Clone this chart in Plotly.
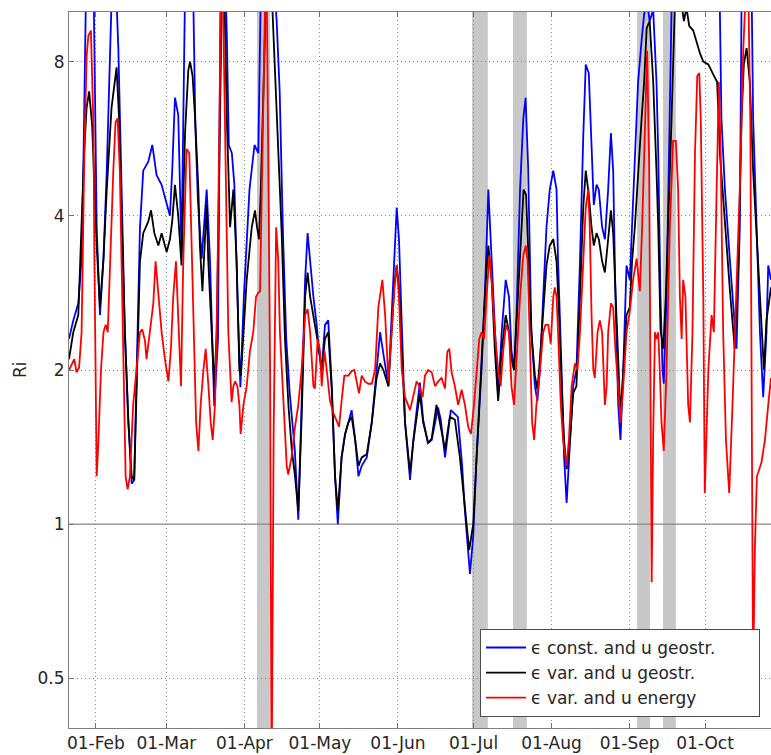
import math
import pandas as pd
import plotly.graph_objects as go

# Dates are stored as day offsets from 1 January (fractional days).
YEAR_START = pd.Timestamp("2010-01-01")

# Richardson number series: (day offset, Ri)
eps_const_u_geo = [
    (20.3, 2.3), (22.0, 2.5), (24.0, 2.7), (25.3, 3.3), (26.0, 5.0), (27.0, 10.5), (28.5, 14), (30.0, 12),
    (31.3, 3.8), (32.6, 2.56), (34.0, 3.3), (35.3, 4.9), (37.2, 10.5), (38.2, 13), (39.2, 10.5), (39.9, 8.5),
    (41.2, 4.5), (42.5, 2.37), (43.9, 1.58), (45.2, 1.2), (46.2, 1.22), (47.2, 2.0), (48.5, 3.8), (49.8, 4.9),
    (51.8, 5.1), (53.4, 5.5), (55.1, 4.8), (57.1, 4.6), (59.1, 4.2), (60.4, 4.0), (61.3, 4.9), (62.4, 6.8),
    (63.7, 6.3), (65.0, 3.4), (66.4, 11), (68.0, 14), (69.7, 10.5), (70.5, 6.0), (71.5, 4.3), (73.0, 3.3),
    (75.0, 4.5), (76.3, 3.3), (78.0, 1.7), (79.5, 2.3), (80.5, 11), (82.0, 14), (83.0, 9), (83.8, 5.5),
    (85.0, 5.3), (86.0, 4.6), (87.5, 2.5), (88.4, 1.85), (89.8, 2.8), (92.0, 4.5), (94.0, 5.5), (95.5, 5.3),
    (96.5, 11), (98.0, 14), (101.0, 13), (102.8, 9.6), (104.0, 7.0), (105.3, 3.7), (106.6, 2.3), (108.0, 1.8),
    (110.0, 1.4), (111.4, 1.02), (112.7, 1.71), (114.1, 3.0), (115.1, 3.7), (116.1, 3.26), (117.4, 2.78),
    (118.7, 2.45), (119.6, 2.18), (120.7, 2.0), (122.0, 2.45), (123.3, 2.5), (124.7, 1.86), (126.0, 1.24),
    (127.1, 1.0), (128.6, 1.35), (130.0, 1.5), (131.3, 1.58), (132.6, 1.67), (134.0, 1.46), (135.3, 1.24),
    (136.6, 1.3), (138.6, 1.35), (140.6, 1.58), (142.5, 2.0), (143.9, 2.37), (145.2, 2.15), (147.2, 1.86),
    (148.5, 2.56), (149.6, 3.26), (150.5, 4.15), (151.4, 3.6), (152.5, 2.37), (153.8, 1.58), (155.8, 1.22),
    (157.1, 1.46), (159.7, 1.89), (161.0, 1.6), (162.9, 1.44), (164.4, 1.46), (166.9, 1.69), (168.0, 1.6),
    (169.7, 1.35), (172.0, 1.67), (174.8, 1.62), (176.5, 1.3), (177.6, 1.06), (179.6, 0.8), (180.9, 0.95),
    (182.2, 1.35), (184.2, 2.0), (185.5, 2.78), (186.9, 4.5), (188.2, 3.26), (189.5, 2.37), (190.8, 1.77),
    (192.2, 2.37), (193.8, 3.0), (195.1, 2.78), (196.1, 2.18), (197.1, 2.0), (198.1, 2.56), (199.5, 4.5),
    (200.8, 6.2), (201.7, 6.8), (202.7, 5.0), (204.0, 2.37), (205.4, 1.86), (206.4, 1.74), (207.4, 2.0),
    (208.7, 2.78), (210.0, 3.8), (211.3, 4.5), (212.7, 4.9), (214.0, 4.5), (214.6, 3.26), (216.0, 2.0),
    (217.0, 1.35), (218.0, 1.1), (219.3, 1.46), (220.6, 1.86), (221.9, 2.0), (223.3, 3.26), (224.6, 5.7),
    (225.6, 7.9), (226.8, 7.6), (227.9, 5.3), (228.8, 4.2), (229.9, 4.6), (230.8, 4.5), (232.1, 3.8),
    (233.2, 3.6), (234.5, 4.5), (235.6, 5.8), (236.5, 4.9), (237.4, 2.78), (238.5, 1.71), (239.4, 1.46),
    (240.5, 2.0), (241.8, 3.2), (243.1, 3.0), (244.0, 3.8), (245.1, 5.3), (246.4, 7.3), (247.8, 8.8),
    (248.8, 9.9), (250.0, 10.4), (251.0, 9.6), (252.4, 10.1), (253.7, 7.3), (254.4, 5.3), (255.3, 2.78),
    (256.1, 2.0), (256.6, 1.88), (257.7, 2.78), (258.8, 5.3), (259.7, 10.2), (262.0, 14), (266.0, 16),
    (270.0, 15), (274.0, 14), (277.5, 12), (278.9, 10), (279.5, 6.2), (280.9, 4.5), (282.9, 3.26),
    (284.8, 2.37), (285.5, 2.2), (286.8, 3.8), (287.5, 10.5), (289.5, 14), (291.5, 11), (292.1, 6.2),
    (293.5, 3.8), (294.8, 2.37), (296.1, 1.77), (297.4, 2.37), (298.1, 3.2), (299.2, 3.0),
]

eps_var_u_geo = [
    (20.3, 2.1), (22.0, 2.37), (24.0, 2.56), (25.3, 3.8), (26.3, 5.3), (27.3, 6.5), (28.3, 7.0), (29.5, 6.0),
    (30.5, 4.5), (31.3, 3.5), (32.6, 2.65), (34.0, 3.3), (35.3, 4.5), (37.2, 6.5), (39.2, 7.8), (40.2, 6.2),
    (41.2, 4.0), (42.5, 2.37), (43.9, 1.58), (45.2, 1.24), (46.2, 1.22), (47.2, 1.9), (48.5, 3.26), (49.8, 3.7),
    (51.8, 3.9), (52.9, 4.1), (54.2, 3.7), (55.8, 3.5), (57.1, 3.7), (59.1, 3.4), (60.4, 3.6), (61.3, 3.9),
    (62.4, 4.6), (63.7, 4.0), (65.0, 3.2), (66.4, 5.8), (67.7, 7.7), (68.4, 8.0), (69.4, 7.5), (70.4, 6.2),
    (71.7, 4.5), (72.3, 3.5), (73.3, 2.85), (74.3, 3.6), (75.0, 4.2), (75.6, 3.3), (77.0, 2.37), (78.0, 1.86),
    (79.0, 2.37), (79.6, 3.8), (80.3, 5.8), (81.0, 10.5), (82.0, 11), (83.0, 6.2), (84.3, 3.8), (85.6, 4.5),
    (86.9, 3.26), (88.0, 2.0), (88.6, 1.95), (89.6, 2.37), (90.9, 3.0), (92.9, 3.8), (94.2, 4.1), (95.0, 3.8),
    (95.8, 3.6), (96.5, 4.5), (97.5, 7.3), (98.5, 10.5), (100.5, 12), (102.1, 7.7), (103.4, 5.4), (104.8, 3.7),
    (106.1, 2.3), (107.5, 1.7), (108.8, 1.4), (110.1, 1.24), (111.4, 1.06), (112.7, 1.6), (114.1, 2.78),
    (115.1, 3.1), (116.1, 2.78), (117.4, 2.56), (118.7, 2.37), (119.6, 2.2), (120.7, 2.0), (122.0, 2.3),
    (123.3, 2.37), (124.7, 1.83), (126.0, 1.24), (127.1, 1.06), (128.6, 1.35), (130.0, 1.5), (131.3, 1.58),
    (132.6, 1.62), (134.0, 1.46), (135.3, 1.3), (136.6, 1.35), (138.6, 1.37), (140.6, 1.58), (142.5, 1.93),
    (143.9, 2.06), (145.2, 2.0), (147.2, 1.86), (148.5, 2.37), (149.6, 2.95), (150.5, 3.2), (151.4, 2.9),
    (152.5, 2.2), (153.8, 1.58), (155.8, 1.26), (157.1, 1.45), (159.7, 1.8), (161.0, 1.58), (163.0, 1.44),
    (164.4, 1.47), (166.3, 1.71), (167.7, 1.58), (169.7, 1.4), (171.6, 1.62), (173.6, 1.6), (175.6, 1.35),
    (177.6, 1.06), (179.3, 0.89), (180.9, 1.0), (182.2, 1.35), (184.2, 2.1), (185.5, 2.78), (186.9, 3.5),
    (188.2, 3.0), (189.5, 2.18), (190.8, 1.74), (192.2, 2.18), (193.8, 2.56), (195.1, 2.37), (196.1, 2.1),
    (197.1, 2.0), (198.1, 2.5), (199.6, 3.5), (200.9, 4.5), (201.9, 4.4), (202.7, 3.5), (204.0, 2.37),
    (205.4, 1.95), (206.4, 1.83), (207.4, 2.1), (208.7, 2.56), (210.0, 3.2), (211.3, 3.5), (212.7, 3.6),
    (214.0, 3.26), (215.0, 2.56), (216.0, 1.86), (217.0, 1.46), (218.0, 1.28), (219.3, 1.46), (220.6, 1.8),
    (221.9, 1.86), (223.3, 2.78), (224.6, 4.15), (225.6, 4.9), (226.8, 4.4), (227.9, 3.8), (228.8, 3.5),
    (229.9, 3.7), (230.8, 3.6), (232.1, 3.26), (233.2, 3.1), (234.5, 3.6), (235.6, 4.1), (236.5, 3.7),
    (237.4, 2.78), (238.5, 2.0), (239.4, 1.62), (240.5, 2.0), (241.8, 2.56), (243.1, 2.65), (244.0, 3.26),
    (245.1, 3.8), (246.4, 4.9), (247.8, 6.2), (248.8, 7.3), (249.8, 9.3), (251.0, 9.6), (252.4, 7.3),
    (253.7, 4.9), (254.4, 3.8), (255.3, 2.4), (256.4, 2.2), (257.4, 2.78), (258.4, 3.8), (259.7, 6.2),
    (261.0, 10.3), (262.5, 11), (263.6, 10.4), (264.6, 9.6), (265.6, 10.2), (266.7, 9.4), (268.3, 9.2),
    (269.6, 8.7), (271.0, 8.3), (272.3, 8.0), (274.3, 7.9), (276.0, 7.6), (277.8, 7.3), (278.9, 5.3),
    (280.9, 3.8), (282.9, 2.85), (284.8, 2.2), (286.2, 3.2), (287.5, 6.2), (288.4, 7.9), (289.5, 8.5),
    (290.8, 7.3), (292.1, 4.9), (294.1, 3.2), (295.4, 2.37), (296.4, 2.0), (297.4, 2.5), (299.2, 2.9),
]

eps_var_u_energy = [
    (20.3, 2.0), (21.3, 2.05), (22.4, 2.1), (23.3, 1.98), (24.3, 2.02), (25.3, 2.37), (26.4, 5.3), (27.3, 8.2),
    (28.0, 9.0), (29.0, 9.2), (30.0, 6.0), (30.4, 3.26), (30.9, 2.0), (31.3, 1.24), (32.0, 1.46), (33.0, 2.0),
    (34.0, 2.37), (34.9, 2.45), (35.7, 2.37), (36.6, 3.26), (37.9, 4.9), (38.8, 6.1), (39.6, 6.2), (40.5, 4.9),
    (41.5, 2.78), (42.3, 1.71), (42.8, 1.24), (43.6, 1.17), (44.5, 1.24), (45.8, 1.71), (47.2, 2.0), (48.5, 2.37),
    (49.4, 2.4), (50.5, 2.28), (51.1, 2.1), (52.5, 2.37), (53.8, 2.7), (54.7, 3.26), (55.8, 2.78), (57.1, 2.37),
    (58.4, 2.1), (59.8, 1.9), (60.8, 2.2), (61.7, 2.78), (62.8, 3.26), (63.7, 2.56), (64.8, 1.86), (65.7, 3.26),
    (67.0, 5.4), (68.1, 5.3), (69.0, 3.5), (69.7, 2.37), (70.8, 1.58), (71.7, 1.39), (72.6, 1.71), (73.7, 2.0),
    (74.6, 2.2), (75.7, 1.86), (76.6, 1.58), (77.4, 1.46), (78.3, 1.71), (79.2, 2.78), (80.0, 5.3), (80.6, 10.0),
    (81.3, 12), (82.3, 6.2), (83.0, 3.26), (83.6, 2.37), (84.3, 2.0), (84.9, 1.73), (85.6, 1.86), (86.3, 1.9),
    (87.2, 1.86), (88.0, 1.71), (88.5, 1.5), (89.6, 1.71), (90.9, 1.86), (92.2, 2.18), (93.5, 2.37), (94.6, 2.78),
    (95.5, 2.83), (96.2, 2.85), (96.9, 4.5), (97.5, 7.3), (98.2, 10.5), (98.8, 12), (99.5, 4.5), (100.2, 2.0),
    (100.8, 0.3), (101.6, 1.5), (102.6, 3.8), (103.4, 3.3), (104.1, 2.37), (105.5, 1.71), (106.8, 1.3),
    (107.4, 1.25), (108.7, 1.35), (110.1, 1.55), (111.4, 1.71), (112.7, 2.0), (114.1, 2.56), (115.1, 2.63),
    (116.1, 2.37), (117.4, 1.86), (118.0, 1.84), (119.1, 2.3), (120.0, 2.18), (120.7, 1.86), (121.8, 2.18),
    (122.7, 2.0), (124.0, 1.74), (125.3, 1.65), (126.7, 1.58), (127.6, 1.55), (128.6, 1.74), (129.7, 1.95),
    (131.3, 1.95), (132.6, 1.99), (133.7, 2.0), (134.6, 1.88), (135.5, 1.8), (136.6, 1.95), (137.9, 1.9),
    (139.2, 1.88), (140.6, 1.88), (141.9, 2.0), (143.2, 2.65), (144.8, 3.0), (145.9, 2.56), (147.2, 1.9),
    (148.5, 2.37), (149.6, 2.9), (150.5, 3.2), (151.4, 2.78), (152.5, 2.0), (153.8, 1.77), (155.8, 1.67),
    (157.1, 1.77), (158.4, 1.9), (159.5, 1.86), (160.8, 1.77), (161.7, 1.95), (163.0, 2.0), (164.4, 1.98),
    (165.7, 1.86), (167.0, 1.9), (168.3, 1.93), (169.7, 1.84), (170.6, 2.17), (171.4, 2.2), (172.3, 1.98),
    (173.6, 1.86), (174.9, 1.71), (176.3, 1.83), (177.6, 1.71), (178.9, 1.55), (180.0, 1.5), (181.2, 1.71),
    (182.2, 2.0), (183.3, 2.3), (184.2, 2.37), (185.2, 2.3), (186.2, 2.78), (187.3, 3.35), (188.2, 3.0),
    (189.5, 2.37), (190.8, 2.0), (191.8, 1.86), (192.8, 2.18), (193.9, 2.45), (195.1, 2.37), (196.1, 1.86),
    (197.1, 1.71), (198.4, 2.18), (199.5, 2.78), (200.8, 3.35), (201.8, 3.5), (202.5, 3.26), (203.4, 2.18),
    (204.3, 1.58), (205.1, 1.46), (206.0, 1.71), (207.4, 2.0), (208.7, 2.37), (209.6, 2.45), (210.7, 2.45),
    (211.7, 2.25), (212.7, 2.78), (213.3, 2.9), (214.0, 2.78), (214.6, 2.37), (215.7, 1.71), (216.6, 1.46),
    (218.0, 1.3), (218.9, 1.46), (220.0, 1.86), (221.3, 2.06), (222.3, 2.0), (223.3, 2.37), (224.6, 3.26),
    (225.6, 4.15), (226.6, 4.5), (227.2, 3.8), (227.9, 2.56), (228.6, 2.0), (229.2, 1.93), (230.3, 2.37),
    (231.2, 2.5), (232.1, 2.37), (233.2, 1.71), (233.9, 1.86), (234.5, 2.37), (235.6, 2.7), (236.5, 2.65),
    (237.4, 2.18), (238.5, 1.86), (239.4, 1.58), (240.5, 1.86), (241.8, 2.37), (243.1, 2.6), (244.4, 3.0),
    (245.8, 3.3), (247.1, 2.85), (248.0, 3.8), (248.8, 5.3), (250.0, 8.4), (250.8, 5.0), (251.3, 2.0),
    (251.8, 0.77), (252.4, 1.5), (253.1, 2.37), (253.7, 2.3), (254.4, 2.37), (255.0, 2.0), (255.7, 1.58),
    (256.6, 1.39), (257.7, 2.0), (259.0, 3.8), (260.3, 5.6), (261.4, 5.6), (262.3, 4.5), (263.0, 2.78),
    (263.7, 2.3), (264.3, 3.0), (265.2, 2.78), (266.3, 1.71), (267.0, 1.58), (268.0, 2.37), (269.0, 5.3),
    (269.9, 7.5), (270.7, 7.6), (271.3, 6.2), (272.3, 2.78), (272.9, 1.15), (274.3, 2.0), (275.6, 2.56),
    (276.5, 2.37), (277.6, 4.5), (278.5, 7.3), (279.2, 5.3), (280.2, 2.37), (281.3, 1.46), (282.6, 1.15),
    (283.9, 1.71), (285.5, 2.78), (286.8, 4.5), (288.2, 8.5), (289.2, 11), (290.2, 11), (291.0, 6.0),
    (291.6, 1.5), (292.1, 0.5), (292.8, 0.9), (293.6, 1.24), (295.4, 1.32), (296.8, 1.46), (298.1, 1.71),
    (299.2, 1.93),
]

# Shaded periods (start day, end day)
shaded_periods = [(95.0, 100.1), (180.4, 186.7), (196.7, 202.2), (246.0, 251.1), (256.3, 261.4)]

series_names = ["ϵ const. and u geostr.", "ϵ var. and u geostr.", "ϵ var. and u energy"]
series_colors = ["#0000ff", "#000000", "#ff0000"]

ri_ticks = [0.5, 1, 2, 4, 8]
ri_range = (0.4, 10.0)
day_range = (20.3, 299.2)

FONT = "DejaVu Sans"
TEXT_COLOR = "#262626"


def to_date(day):
    return YEAR_START + pd.Timedelta(days=day)


fig = go.Figure()

# legend labels are padded on the right so the legend box spans the lower-right corner
pad = "\u00a0" * 7
for name, color, pts in zip(series_names, series_colors,
                            [eps_const_u_geo, eps_var_u_geo, eps_var_u_energy]):
    fig.add_trace(go.Scatter(
        x=[to_date(d) for d, _ in pts],
        y=[v for _, v in pts],
        mode="lines",
        name=name + pad,
        legendgroup=name,
        line=dict(color=color, width=1.8),
    ))

shapes = []
for d0, d1 in shaded_periods:
    shapes.append(dict(type="rect", xref="x", yref="paper",
                       x0=to_date(d0), x1=to_date(d1), y0=0, y1=1,
                       fillcolor="#c8c8c8", line=dict(width=0), layer="between"))
# reference line at Ri = 1
shapes.append(dict(type="line", xref="paper", yref="y", x0=0, x1=1, y0=1, y1=1,
                   line=dict(color="#8a8a8a", width=1.2), layer="between"))

fig.update_layout(
    width=771, height=755,
    margin=dict(l=69, r=0, t=12, b=27),
    plot_bgcolor="white", paper_bgcolor="white",
    font=dict(family=FONT, size=17, color=TEXT_COLOR),
    shapes=shapes,
    showlegend=True,
    legend=dict(
        x=0.5855, y=0.0154, xanchor="left", yanchor="bottom",
        bgcolor="white", bordercolor="#4d4d4d", borderwidth=1,
        font=dict(family=FONT, size=17, color=TEXT_COLOR),
        traceorder="grouped", tracegroupgap=0, itemwidth=40,
    ),
    annotations=[dict(text="Ri", xref="paper", yref="paper", x=-0.0698, y=0.5,
                      xanchor="center", yanchor="middle",
                      textangle=-90, showarrow=False,
                      font=dict(family=FONT, size=17, color=TEXT_COLOR))],
)

grid_dash = "1px,3px"
fig.update_xaxes(
    type="date",
    range=[to_date(day_range[0]), to_date(day_range[1])],
    tick0="2010-02-01", dtick="M1", tickformat="%d-%b",
    ticks="inside", ticklen=5, tickcolor="#707070",
    showline=True, linecolor="#7f7f7f", linewidth=1, mirror="ticks",
    showgrid=True, gridcolor="#8c8c8c", griddash=grid_dash, gridwidth=1,
    zeroline=False,
)
fig.update_yaxes(
    type="log",
    range=[math.log10(ri_range[0]), math.log10(ri_range[1])],
    tickvals=ri_ticks, ticktext=[str(t) for t in ri_ticks],
    ticks="inside", ticklen=5, tickcolor="#707070",
    showline=True, linecolor="#7f7f7f", linewidth=1, mirror=False,
    showgrid=True, gridcolor="#8c8c8c", griddash=grid_dash, gridwidth=1,
    zeroline=False,
)

fig.write_html("out.html")
